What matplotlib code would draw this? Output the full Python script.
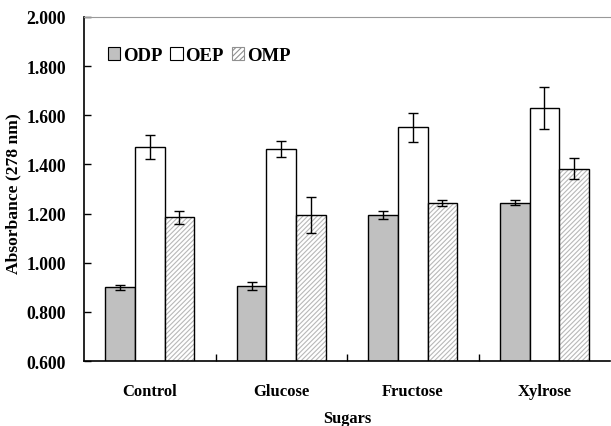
import numpy as np
import matplotlib.pyplot as plt
from matplotlib.patches import Patch

plt.rcParams["font.family"] = ["Liberation Serif", "DejaVu Serif"]
plt.rcParams["font.weight"] = "bold"
plt.rcParams["hatch.linewidth"] = 0.8

sugars = ["Control", "Glucose", "Fructose", "Xylrose"]
series = ["ODP", "OEP", "OMP"]
odp = [0.900, 0.905, 1.194, 1.244]
odp_err = [0.010, 0.017, 0.018, 0.010]
oep = [1.471, 1.464, 1.551, 1.630]
oep_err = [0.050, 0.033, 0.060, 0.085]
omp = [1.185, 1.194, 1.244, 1.383]
omp_err = [0.027, 0.072, 0.013, 0.044]

fig = plt.figure(figsize=(6.11, 4.27), dpi=100)
ax = fig.add_axes([0.1375, 0.152, 0.861, 0.806])

x = np.arange(len(sugars))
w = 0.225
err_kw = dict(ecolor="black", elinewidth=1.0, capsize=3.5, capthick=1.0)

ax.bar(x - w, odp, w, color="#c0c0c0", edgecolor="black", linewidth=1.0,
       yerr=odp_err, error_kw=err_kw, zorder=2)
ax.bar(x, oep, w, color="white", edgecolor="black", linewidth=1.0,
       yerr=oep_err, error_kw=err_kw, zorder=2)
# hatch in light grey, then outline on top
ax.bar(x + w, omp, w, color="white", edgecolor="#b8b8b8", hatch="///////",
       linewidth=0, zorder=2)
ax.bar(x + w, omp, w, color="none", edgecolor="black", linewidth=1.0,
       yerr=omp_err, error_kw=err_kw, zorder=3)

ax.set_ylim(0.6, 2.0)
ax.set_xlim(-0.5, 3.5)
yt = np.arange(0.6, 2.01, 0.2)
ax.set_yticks(yt)
ax.set_yticklabels([f"{v:.3f}" for v in yt])
ax.set_xticks(x)
ax.set_xticklabels(sugars)
ax.set_xticks([0.5, 1.5, 2.5], minor=True)
ax.tick_params(axis="x", which="major", length=0, pad=16, labelsize=12)
ax.tick_params(axis="x", which="minor", direction="in", length=5, width=1)
ax.tick_params(axis="y", direction="in", length=5, width=1, pad=13, labelsize=12.7)

ax.spines["right"].set_visible(False)
ax.spines["top"].set_color("#999999")
ax.spines["left"].set_linewidth(1.2)
ax.spines["bottom"].set_linewidth(1.2)

ax.set_xlabel("Sugars", fontsize=11.8, fontweight="bold", va="center")
ax.xaxis.set_label_coords(0.5, -0.166)
ax.set_ylabel("Absorbance (278 nm)", fontsize=12.6, fontweight="bold", va="center")
ax.yaxis.set_label_coords(-0.135, 0.49)

handles = [
    Patch(facecolor="#c0c0c0", edgecolor="black", linewidth=0.8),
    Patch(facecolor="white", edgecolor="black", linewidth=0.8),
    Patch(facecolor="white", edgecolor="#909090", hatch="//////", linewidth=0.8),
]
ax.legend(handles, series, loc="upper left", bbox_to_anchor=(0.02, 0.95), ncol=3,
          frameon=False, handlelength=0.65, handleheight=0.65, handletextpad=0.15,
          columnspacing=0.45, borderpad=0.2, prop={"size": 13.5, "weight": "bold"})

fig.savefig("out.png", dpi=100)
